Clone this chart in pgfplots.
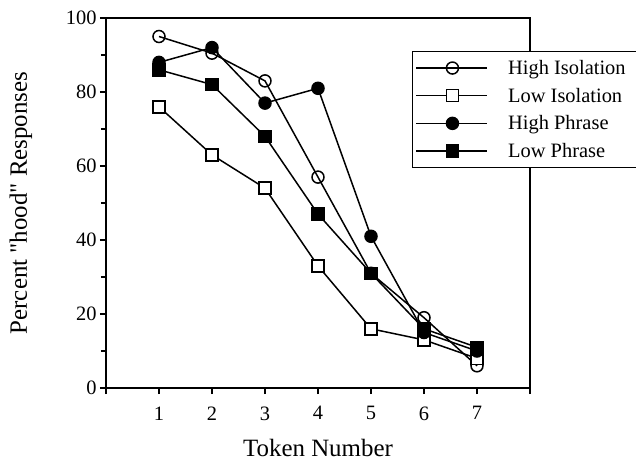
\documentclass[border=0pt]{standalone}
\usepackage{fontspec}
\setmainfont{Liberation Serif}[Ligatures=TeXOff]
\usepackage{pgfplots}
\pgfplotsset{compat=1.18}

\begin{document}
\begin{tikzpicture}
\begin{axis}[
  scale only axis,
  width=424bp, height=370bp,
  xmin=0, xmax=8, ymin=0, ymax=100,
  xtick={0,1,...,8},
  xticklabels={,1,2,3,4,5,6,7,},
  ytick={0,20,...,100},
  minor y tick num=1,
  tick pos=left,
  tick align=outside,
  major tick length=6bp,
  minor tick length=5bp,
  every tick/.style={black, line width=1.2bp},
  axis line style={line width=1.4bp},
  tick label style={font=\fontsize{20.5}{24}\selectfont},
  /pgf/number format/assume math mode=true,
  xticklabel style={yshift=-9bp},
  xlabel={Token Number},
  ylabel={Percent "hood" Responses},
  label style={font=\fontsize{25}{30}\selectfont},
  xlabel style={at={(axis description cs:0.5,0)}, anchor=center, yshift=-60bp},
  ylabel style={at={(axis description cs:-0.2005,0.5)}, anchor=center},
  legend cell align=left,
  legend style={
    at={(rel axis cs:0.7217,0.9108)}, anchor=north west,
    draw=black, line width=1.4bp, fill=white,
    font=\fontsize{20.5}{24}\selectfont,
    inner xsep=3bp, inner ysep=6bp,
    row sep=7bp,
    nodes={inner ysep=2.5bp},
  },
  legend image code/.code={
    \draw[mark repeat=2, mark phase=2, #1]
      plot coordinates {(0bp,0bp) (36bp,0bp) (71bp,0bp)};
  },
  every axis plot/.append style={black, line width=1.5bp,
    mark options={solid, line width=1.3bp}},
]
\coordinate (bl) at (rel axis cs:0,0);

% Token continuum: proportion of "hood" responses per condition
\addplot[mark=o, mark size=6bp, mark options={fill=white}]
  coordinates {(1,95) (2,90.5) (3,83) (4,57) (5,31) (6,19) (7,6)};
\addlegendentry{\makebox[160bp][r]{\makebox[142bp][l]{High Isolation}}}

\addplot[mark=square*, mark size=6bp, mark options={fill=white}]
  coordinates {(1,76) (2,63) (3,54) (4,33) (5,16) (6,13) (7,8)};
\addlegendentry{\makebox[160bp][r]{\makebox[142bp][l]{Low Isolation}}}

\addplot[mark=*, mark size=6bp, mark options={fill=black}]
  coordinates {(1,88) (2,92) (3,77) (4,81) (5,41) (6,15) (7,10)};
\addlegendentry{\makebox[160bp][r]{\makebox[142bp][l]{High Phrase}}}

\addplot[mark=square*, mark size=6bp, mark options={fill=black}]
  coordinates {(1,86) (2,82) (3,68) (4,47) (5,31) (6,16) (7,11)};
\addlegendentry{\makebox[160bp][r]{\makebox[142bp][l]{Low Phrase}}}
\end{axis}
\pgfresetboundingbox
\path (bl) ++(-106bp,-77bp) rectangle ++(636bp,465bp);
\end{tikzpicture}
\end{document}
